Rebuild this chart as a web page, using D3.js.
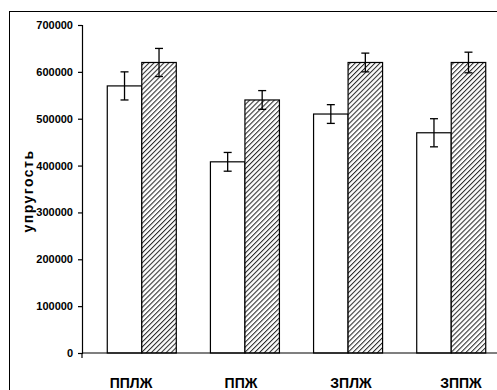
<!DOCTYPE html>
<html><head><meta charset="utf-8">
<script src="https://cdn.jsdelivr.net/npm/d3@7"></script>
<style>html,body{margin:0;padding:0;background:#fff;}svg{display:block;}</style>
</head><body>
<script>
const categories = ["ППЛЖ", "ППЖ", "ЗПЛЖ", "ЗППЖ"];
const seriesNames = ["white", "hatched"];
const whiteValues = [570000, 408000, 510000, 470000];
const whiteErrors = [30000, 20000, 20000, 30000];
const hatchedValues = [620000, 540000, 620000, 620000];
const hatchedErrors = [30000, 20000, 20000, 22000];
const yTicks = [0, 100000, 200000, 300000, 400000, 500000, 600000, 700000];
const yTitle = "упругость";

const W = 497, H = 390;
const svg = d3.select("body").append("svg").attr("width", W).attr("height", H);

const defs = svg.append("defs");
const pat = defs.append("pattern").attr("id", "hatch").attr("patternUnits", "userSpaceOnUse")
  .attr("width", 3.5).attr("height", 3.5).attr("patternTransform", "rotate(45)");
pat.append("rect").attr("width", 3.5).attr("height", 3.5).attr("fill", "#fff");
pat.append("line").attr("x1", 0).attr("y1", 0).attr("x2", 0).attr("y2", 3.5)
  .attr("stroke", "#2a2a2a").attr("stroke-width", 2.1);

// outer border
svg.append("rect").attr("x", 9.5).attr("y", 11.5).attr("width", 500).attr("height", 400)
  .attr("fill", "none").attr("stroke", "#000").attr("stroke-width", 1);

const y = d3.scaleLinear().domain([0, 700000]).range([353, 25]);
const x = d3.scaleBand().domain(categories).range([82, 511]).paddingInner(0.331).paddingOuter(0.245);
const xs = d3.scaleBand().domain(seriesNames).range([0, x.bandwidth()]);
const xl = d3.scalePoint().domain(categories).range([131, 461]);

const data = categories.map((c, i) => ({
  c,
  s: [
    {k: "white", v: whiteValues[i], e: whiteErrors[i]},
    {k: "hatched", v: hatchedValues[i], e: hatchedErrors[i]}
  ]
}));

const g = svg.append("g").selectAll("g").data(data).join("g")
  .attr("transform", d => `translate(${x(d.c)},0)`);
g.selectAll("rect").data(d => d.s).join("rect")
  .attr("x", d => xs(d.k)).attr("y", d => y(d.v))
  .attr("width", xs.bandwidth()).attr("height", d => y(0) - y(d.v))
  .attr("fill", d => d.k === "white" ? "#fff" : "url(#hatch)")
  .attr("stroke", "#000").attr("stroke-width", 1.2);

// error bars
const eb = g.selectAll("g.eb").data(d => d.s).join("g").attr("class", "eb")
  .attr("transform", d => `translate(${xs(d.k) + xs.bandwidth() / 2},0)`);
eb.append("line").attr("x1", 0).attr("x2", 0)
  .attr("y1", d => y(d.v + d.e)).attr("y2", d => y(d.v - d.e))
  .attr("stroke", "#000").attr("stroke-width", 1.3);
eb.append("line").attr("x1", -4).attr("x2", 4)
  .attr("y1", d => y(d.v + d.e)).attr("y2", d => y(d.v + d.e))
  .attr("stroke", "#000").attr("stroke-width", 1.3);
eb.append("line").attr("x1", -4).attr("x2", 4)
  .attr("y1", d => y(d.v - d.e)).attr("y2", d => y(d.v - d.e))
  .attr("stroke", "#000").attr("stroke-width", 1.3);

// y axis
const yAxis = d3.axisLeft(y).tickValues(yTicks).tickFormat(d3.format("d")).tickSizeOuter(0).tickSize(4).tickPadding(5);
const ya = svg.append("g").attr("transform", "translate(82,0)").call(yAxis);
ya.select(".domain").attr("stroke", "#000").attr("stroke-width", 1.2);
ya.selectAll(".tick line").attr("stroke", "#000").attr("stroke-width", 1.2);
ya.selectAll(".tick text").attr("font-family", "Liberation Sans, Arial, sans-serif")
  .attr("font-size", 11).attr("font-weight", "bold").attr("fill", "#000");

// x axis baseline
svg.append("line").attr("x1", 82).attr("x2", W).attr("y1", y(0)).attr("y2", y(0))
  .attr("stroke", "#000").attr("stroke-width", 1.2);
svg.append("line").attr("x1", 82).attr("x2", 82).attr("y1", y(0)).attr("y2", y(0) + 5)
  .attr("stroke", "#000").attr("stroke-width", 1.2);

// category labels
svg.append("g").selectAll("text").data(categories).join("text")
  .attr("x", d => xl(d)).attr("y", 388)
  .attr("text-anchor", "middle")
  .attr("font-family", "Liberation Sans, Arial, sans-serif")
  .attr("font-size", 14).attr("font-weight", "bold").attr("fill", "#000")
  .text(d => d);

// y title
svg.append("text").attr("transform", "translate(33,191) rotate(-90)")
  .attr("text-anchor", "middle")
  .attr("font-family", "Liberation Sans, Arial, sans-serif")
  .attr("font-size", 14).attr("font-weight", "bold").attr("letter-spacing", 1.5).attr("fill", "#000")
  .text(yTitle);
</script>
</body></html>
